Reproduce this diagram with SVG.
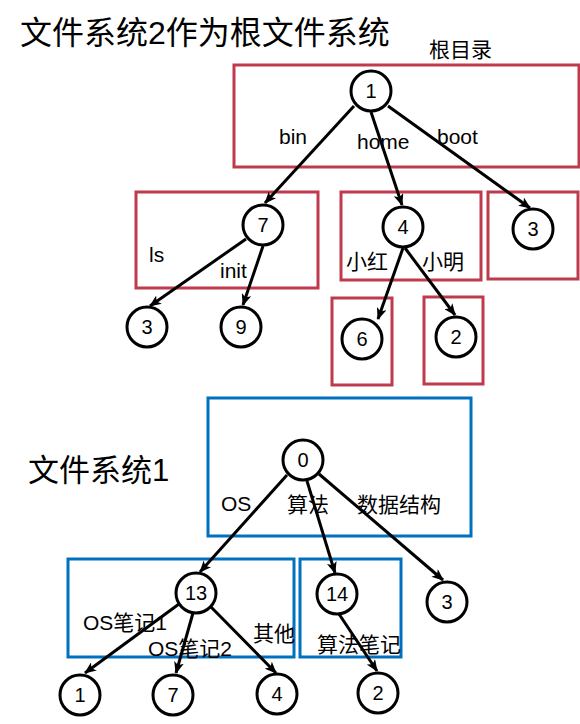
<svg xmlns="http://www.w3.org/2000/svg" width="580" height="724" viewBox="0 0 580 724">
<style>
.t{font-family:"Liberation Sans","Noto Sans CJK SC",sans-serif;fill:#000}
.title{font-size:32px}
.lbl{font-size:21px}
.num{font-size:20px;text-anchor:middle;dominant-baseline:central}
.node{fill:#fff;stroke:#000;stroke-width:3}
.rbox{fill:none;stroke:#be3a4c;stroke-width:3}
.bbox{fill:none;stroke:#0070c0;stroke-width:3}
.edge{stroke:#000;stroke-width:3;fill:none;marker-end:url(#ah)}
</style>
<defs>
<marker id="ah" markerUnits="userSpaceOnUse" viewBox="0 0 12 10" refX="11" refY="5" markerWidth="12" markerHeight="10" orient="auto">
<path d="M0,0 L12,5 L0,10 L3,5 z" fill="#000"/>
</marker>
</defs>
<rect width="580" height="724" fill="#fff"/>
<text class="t title" x="20" y="44">文件系统2作为根文件系统</text>
<text class="t lbl" x="429" y="57" font-size="22">根目录</text>
<text class="t title" x="28" y="481" style="font-size:31px">文件系统1</text>

<g id="boxes">
<rect id="box-root" class="rbox" x="234" y="65" width="345" height="102"/>
<rect id="box-bin" class="rbox" x="136" y="192" width="182" height="96"/>
<rect id="box-home" class="rbox" x="341" y="192" width="140" height="88"/>
<rect id="box-boot" class="rbox" x="488" y="192" width="90" height="87"/>
<rect id="box-xh" class="rbox" x="332" y="298" width="60" height="87"/>
<rect id="box-xm" class="rbox" x="424" y="297" width="59" height="87"/>
<rect id="box-fs1" class="bbox" x="208" y="398" width="263" height="138"/>
<rect id="box-os" class="bbox" x="68" y="559" width="226" height="98"/>
<rect id="box-alg" class="bbox" x="300" y="559" width="101" height="98"/>
</g>

<g id="connectors">
<line class="edge" x1="354" y1="106" x2="265" y2="203"/>
<line class="edge" x1="371" y1="112" x2="402" y2="205"/>
<line class="edge" x1="388" y1="106" x2="530" y2="208"/>
<line class="edge" x1="246" y1="239" x2="150" y2="306"/>
<line class="edge" x1="263" y1="246" x2="243" y2="305"/>
<line class="edge" x1="403" y1="248" x2="378" y2="319"/>
<line class="edge" x1="405" y1="248" x2="455" y2="315"/>
<line class="edge" x1="287" y1="475" x2="200" y2="572"/>
<line class="edge" x1="307" y1="481" x2="335" y2="573"/>
<line class="edge" x1="319" y1="474" x2="443" y2="580"/>
<line class="edge" x1="179" y1="604" x2="85" y2="673"/>
<line class="edge" x1="193" y1="613" x2="176" y2="673"/>
<line class="edge" x1="211" y1="607" x2="276" y2="673"/>
<line class="edge" x1="335" y1="608" x2="377" y2="671"/>
</g>

<g id="edge-labels">
<text class="t lbl" x="279" y="144">bin</text>
<text class="t lbl" x="357" y="149">home</text>
<text class="t lbl" x="437" y="144">boot</text>
<text class="t lbl" x="149" y="262">ls</text>
<text class="t lbl" x="220" y="278">init</text>
<text class="t lbl" x="346" y="269">小红</text>
<text class="t lbl" x="422" y="269">小明</text>
<text class="t lbl" x="221" y="511">OS</text>
<text class="t lbl" x="287" y="512">算法</text>
<text class="t lbl" x="357" y="512">数据结构</text>
<text class="t lbl" x="83" y="630">OS笔记1</text>
<text class="t lbl" x="148" y="656">OS笔记2</text>
<text class="t lbl" x="253" y="641">其他</text>
<text class="t lbl" x="317" y="652">算法笔记</text>
</g>

<g id="n-1"><circle class="node" cx="371" cy="91" r="20"/><text class="t num" x="371" y="91">1</text></g>
<g id="n-7a"><circle class="node" cx="263" cy="225" r="20"/><text class="t num" x="263" y="225">7</text></g>
<g id="n-4a"><circle class="node" cx="403" cy="227" r="20"/><text class="t num" x="403" y="227">4</text></g>
<g id="n-3a"><circle class="node" cx="533" cy="229" r="20"/><text class="t num" x="533" y="229">3</text></g>
<g id="n-3b"><circle class="node" cx="147" cy="327" r="20"/><text class="t num" x="147" y="327">3</text></g>
<g id="n-9"><circle class="node" cx="241" cy="327" r="20"/><text class="t num" x="241" y="327">9</text></g>
<g id="n-6"><circle class="node" cx="362" cy="339" r="20"/><text class="t num" x="362" y="339">6</text></g>
<g id="n-2a"><circle class="node" cx="456" cy="337" r="20"/><text class="t num" x="456" y="337">2</text></g>
<g id="n-0"><circle class="node" cx="303" cy="460" r="20"/><text class="t num" x="303" y="460">0</text></g>
<g id="n-13"><circle class="node" cx="196" cy="593" r="20"/><text class="t num" x="196" y="593">13</text></g>
<g id="n-14"><circle class="node" cx="337" cy="594" r="20"/><text class="t num" x="337" y="594">14</text></g>
<g id="n-3c"><circle class="node" cx="447" cy="602" r="20"/><text class="t num" x="447" y="602">3</text></g>
<g id="n-1b"><circle class="node" cx="80" cy="695" r="20"/><text class="t num" x="80" y="695">1</text></g>
<g id="n-7b"><circle class="node" cx="173" cy="695" r="20"/><text class="t num" x="173" y="695">7</text></g>
<g id="n-4b"><circle class="node" cx="277" cy="694" r="20"/><text class="t num" x="277" y="694">4</text></g>
<g id="n-2b"><circle class="node" cx="378" cy="693" r="20"/><text class="t num" x="378" y="693">2</text></g>
</svg>
